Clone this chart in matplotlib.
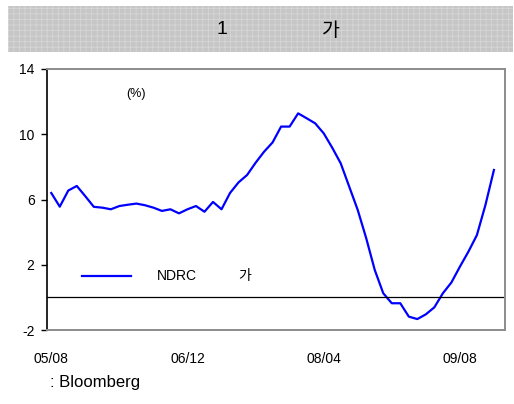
import matplotlib.pyplot as plt
from matplotlib.patches import Rectangle

plt.rcParams["font.family"] = ["Liberation Sans", "Noto Sans CJK KR", "DejaVu Sans"]
plt.rcParams["axes.unicode_minus"] = False
plt.rcParams["hatch.linewidth"] = 0.6

# monthly, 05/08 .. 09/12
months = list(range(53))
ndrc = [6.4, 5.56, 6.55, 6.83, 6.2, 5.55, 5.5, 5.4, 5.6, 5.68,
        5.75, 5.65, 5.5, 5.3, 5.4, 5.15, 5.4, 5.6, 5.25, 5.85,
        5.4, 6.4, 7.05, 7.5, 8.25, 8.93, 9.5, 10.47, 10.47, 11.28,
        10.98, 10.67, 10.06, 9.18, 8.22, 6.79, 5.36, 3.62, 1.68, 0.25,
        -0.36, -0.36, -1.18, -1.33, -1.04, -0.61, 0.25, 0.91, 1.88, 2.8,
        3.82, 5.66, 7.81]
tick_pos = [0, 16, 32, 48]
tick_labels = ["05/08", "06/12", "08/04", "09/08"]
y_ticks = [14, 10, 6, 2, -2]

W, H = 514, 404
fig = plt.figure(figsize=(W / 100, H / 100), dpi=100)

# title band
band = Rectangle((8 / W, 1 - 52 / H), 505 / W, 46 / H, transform=fig.transFigure,
                 facecolor="#c6c6c6", edgecolor="#d6d6d6", hatch="+++", linewidth=0)
fig.patches.append(band)
fig.text(222 / W, 1 - 30 / H, "1", fontsize=14, ha="center", va="center")
fig.text(331 / W, 1 - 30 / H, "가", fontsize=14, ha="center", va="center",
         family=["Noto Sans CJK KR", "DejaVu Sans"])

ax = fig.add_axes([47 / W, 1 - 330 / H, 458 / W, 261 / H])
ax.plot(months, ndrc, color="#0000ff", linewidth=1.6, label="NDRC")
ax.axhline(0, color="black", linewidth=0.9)

ax.set_ylim(-2, 14)
ax.set_xlim(-0.5, 53.3)
ax.set_yticks(y_ticks)
ax.set_xticks(tick_pos)
ax.set_xticklabels(tick_labels)
ax.tick_params(axis="x", length=0, pad=16, labelsize=10)
ax.tick_params(axis="y", length=4, width=1, direction="out", pad=5, labelsize=10)

for side in ["top", "right", "bottom"]:
    ax.spines[side].set_color("#8c8c8c")
    ax.spines[side].set_linewidth(1.4)
ax.spines["left"].set_color("black")
ax.spines["left"].set_linewidth(1.2)

ax.text(136 / W, 1 - 94 / H, "(%)", transform=fig.transFigure, fontsize=9,
        ha="center", va="center")

# legend drawn by hand
fig.lines.append(plt.Line2D([82 / W, 131 / W], [1 - 276 / H, 1 - 276 / H],
                            transform=fig.transFigure, color="#0000ff", linewidth=1.6))
fig.text(157 / W, 1 - 276 / H, "NDRC", fontsize=10, va="center")
fig.text(238 / W, 1 - 276 / H, "가", fontsize=10, va="center",
         family=["Noto Sans CJK KR", "DejaVu Sans"])

fig.text(50 / W, 1 - 383 / H, ": Bloomberg", fontsize=12, va="center")

fig.savefig("out.png", dpi=100, facecolor="white")
